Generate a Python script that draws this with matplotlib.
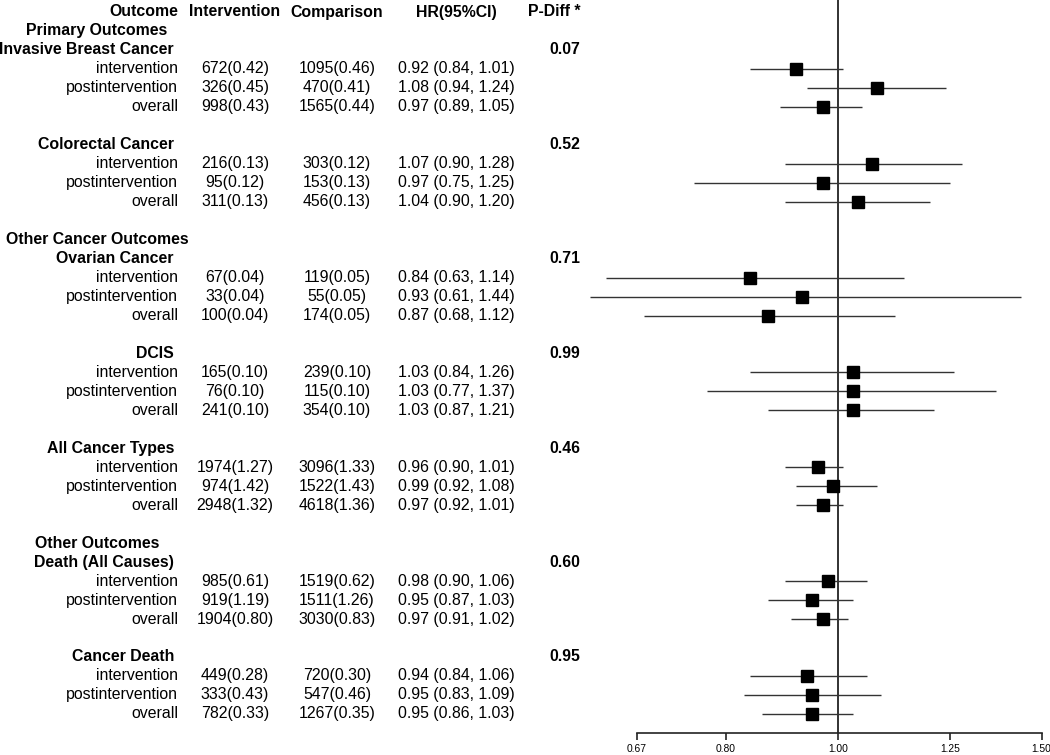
import numpy as np
import matplotlib
matplotlib.use("Agg")
import matplotlib.pyplot as plt
from matplotlib.transforms import blended_transform_factory
from matplotlib.ticker import FixedLocator, NullLocator, FixedFormatter

plt.rcParams['font.family'] = ['Liberation Sans', 'DejaVu Sans']

# ---------------- data ----------------
headers = ["Outcome", "Intervention", "Comparison", "HR(95%CI)", "P-Diff *"]
categories = ["Invasive Breast Cancer", "Colorectal Cancer", "Ovarian Cancer", "DCIS",
              "All Cancer Types", "Death (All Causes)", "Cancer Death"]
section_titles = {"Invasive Breast Cancer": "Primary Outcomes",
                  "Ovarian Cancer": "Other Cancer Outcomes",
                  "Death (All Causes)": "Other Outcomes"}
periods = ["intervention", "postintervention", "overall"]

intervention_counts = [[672, 326, 998], [216, 95, 311], [67, 33, 100], [165, 76, 241],
                       [1974, 974, 2948], [985, 919, 1904], [449, 333, 782]]
intervention_rates = [[0.42, 0.45, 0.43], [0.13, 0.12, 0.13], [0.04, 0.04, 0.04], [0.10, 0.10, 0.10],
                      [1.27, 1.42, 1.32], [0.61, 1.19, 0.80], [0.28, 0.43, 0.33]]
comparison_counts = [[1095, 470, 1565], [303, 153, 456], [119, 55, 174], [239, 115, 354],
                     [3096, 1522, 4618], [1519, 1511, 3030], [720, 547, 1267]]
comparison_rates = [[0.46, 0.41, 0.44], [0.12, 0.13, 0.13], [0.05, 0.05, 0.05], [0.10, 0.10, 0.10],
                    [1.33, 1.43, 1.36], [0.62, 1.26, 0.83], [0.30, 0.46, 0.35]]
hr = [[0.92, 1.08, 0.97], [1.07, 0.97, 1.04], [0.84, 0.93, 0.87], [1.03, 1.03, 1.03],
      [0.96, 0.99, 0.97], [0.98, 0.95, 0.97], [0.94, 0.95, 0.95]]
hr_lower = [[0.84, 0.94, 0.89], [0.90, 0.75, 0.90], [0.63, 0.61, 0.68], [0.84, 0.77, 0.87],
            [0.90, 0.92, 0.92], [0.90, 0.87, 0.91], [0.84, 0.83, 0.86]]
hr_upper = [[1.01, 1.24, 1.05], [1.28, 1.25, 1.20], [1.14, 1.44, 1.12], [1.26, 1.37, 1.21],
            [1.01, 1.08, 1.01], [1.06, 1.03, 1.02], [1.06, 1.09, 1.03]]
p_diff = ["0.07", "0.52", "0.71", "0.99", "0.46", "0.60", "0.95"]

x_ticks = [0.67, 0.80, 1.00, 1.25, 1.50]
x_tick_labels = ["0.67", "0.80", "1.00", "1.25", "1.50"]

# ---------------- layout ----------------
W, H = 1050, 755
fig = plt.figure(figsize=(W / 100, H / 100), dpi=100)
fig.patch.set_facecolor("white")

row_h = 18.97
top_px = 12.0
axis_px = 733.0
n_axis_row = (axis_px - top_px) / row_h

ax_left, ax_right = 580, 1045
ax = fig.add_axes([ax_left / W, (H - axis_px) / H, (ax_right - ax_left) / W, axis_px / H])
ax.set_xscale("log")
scale = 502.0
ax.set_xlim(np.exp((ax_left - 838) / scale), np.exp((ax_right - 838) / scale))
ax.set_ylim(n_axis_row, -top_px / row_h)
for s in ["left", "top", "right"]:
    ax.spines[s].set_visible(False)
ax.spines["bottom"].set_bounds(x_ticks[0], x_ticks[-1])
ax.spines["bottom"].set_linewidth(1.2)
ax.spines["bottom"].set_color("#222222")
ax.set_yticks([])
ax.xaxis.set_major_locator(FixedLocator(x_ticks))
ax.xaxis.set_major_formatter(FixedFormatter(x_tick_labels))
ax.xaxis.set_minor_locator(NullLocator())
ax.tick_params(axis="x", length=5, width=1.2, color="#222222", pad=3, labelsize=7.4)
ax.patch.set_alpha(0)

ax.axvline(1.0, color="#222222", lw=1.3, zorder=1)

tr = blended_transform_factory(fig.transFigure, ax.transData)
fs = 11.4

def put(xpx, row, s, ha, bold=False):
    ax.text(xpx / W, row, s, transform=tr, ha=ha, va="center", fontsize=fs,
            fontweight="bold" if bold else "normal", color="black", clip_on=False)

col_label = 178
col_int = 235
col_cmp = 337
col_hr = 456
col_p = 580
col_sub = 174
col_section = 97

put(col_label, 0, headers[0], "right", True)
put(col_int, 0, headers[1], "center", True)
put(col_cmp, 0, headers[2], "center", True)
put(col_hr, 0, headers[3], "center", True)
put(col_p, 0, headers[4], "right", True)

row = 1
for ci, cat in enumerate(categories):
    if cat in section_titles:
        put(col_section, row, section_titles[cat], "center", True)
        row += 1
    put(col_sub, row, cat, "right", True)
    put(col_p, row, p_diff[ci], "right", True)
    row += 1
    for pi, per in enumerate(periods):
        put(col_label, row, per, "right")
        put(col_int, row, f"{intervention_counts[ci][pi]}({intervention_rates[ci][pi]:.2f})", "center")
        put(col_cmp, row, f"{comparison_counts[ci][pi]}({comparison_rates[ci][pi]:.2f})", "center")
        put(col_hr, row, f"{hr[ci][pi]:.2f} ({hr_lower[ci][pi]:.2f}, {hr_upper[ci][pi]:.2f})", "center")
        ax.plot([hr_lower[ci][pi], hr_upper[ci][pi]], [row, row], color="#333333", lw=1.0,
                zorder=2, clip_on=False, solid_capstyle="butt")
        ax.plot([hr[ci][pi]], [row], marker="s", color="black", markersize=8.0,
                zorder=3, clip_on=False, linestyle="none")
        row += 1
    row += 1

fig.savefig("out.png", dpi=100, facecolor="white")
